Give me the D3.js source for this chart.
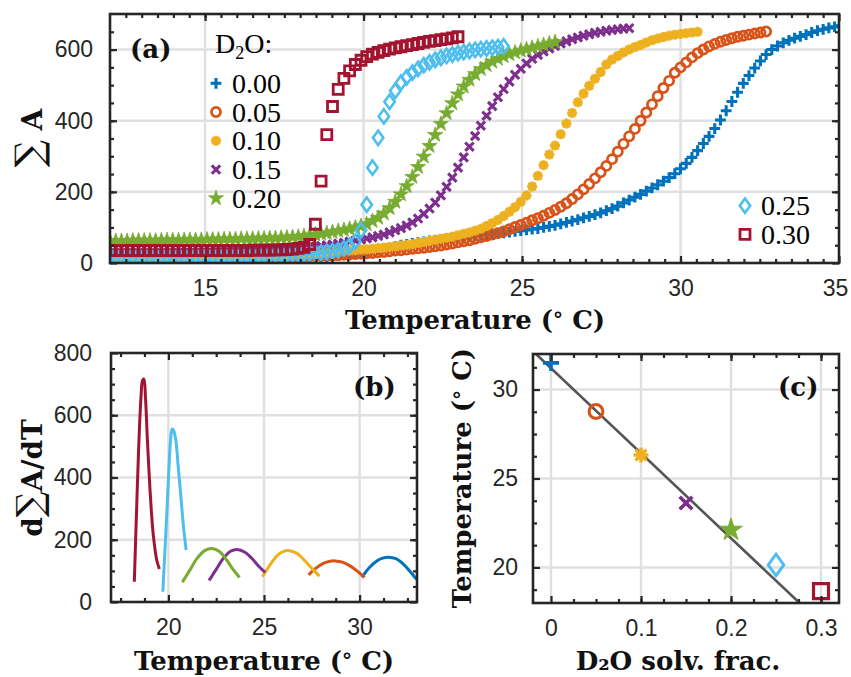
<!DOCTYPE html>
<html>
<head>
<meta charset="utf-8">
<title>D2O transition</title>
<script src="https://cdn.jsdelivr.net/npm/d3@7"></script>
<style>
  body { margin: 0; background: #fff; }
  svg { display: block; }
  .lbl { font-family: "DejaVu Serif", serif; font-weight: bold; font-size: 26px; fill: #111; }
  .leg { font-family: "Liberation Serif", "Times New Roman", serif; font-size: 28px; fill: #000; }
</style>
</head>
<body>
<svg id="fig" width="851" height="677"></svg>
<script>
// temperature grid of panel (a): first reading and step (deg C)
var T0 = 12, dT = 0.18;

var d2oFrac = [0, 0.05, 0.10, 0.15, 0.20, 0.25, 0.30];
var d2oLabels = ["0.00", "0.05", "0.10", "0.15", "0.20", "0.25", "0.30"];
var colors = ["#0072BD", "#D95319", "#EDB120", "#7E2F8E", "#77AC30", "#4DBEEE", "#A2142F"];
var markers = ["plus", "circle", "asterisk", "cross", "star", "diamond", "square"];

// (a) summed area, one value per temperature step
var sumA_000 = [6,6,6,6,6,6,6,6,7,7, 7,7,7,7,7,7,8,8,8,8, 8,8,8,9,9,9,9,10,10,10,
  11,11,12,12,13,14,15,16,18,20, 22,24,26,28,31,33,36,38,41,44, 47,50,52,55,57,59,62,64,66,68,
  70,71,73,74,76,78,80,82,84,85, 87,89,91,93,95,97,100,103,106,110, 114,118,122,127,131,136,141,147,153,160,
  169,177,185,193,202,211,220,230,240,251, 265,280,297,316,336,356,378,402,428,454,
  480,505,527,548,568,586,600,610,619,626, 632,637,642,648,653,657,661,664,667];
var sumA_005 = [13,13,13,13,13,13,13,13,13,13, 14,14,14,14,14,14,14,14,14,14, 15,15,15,15,15,16,16,16,16,17,
  17,17,18,18,19,19,20,20,21,21, 22,23,24,25,26,27,28,30,31,33, 35,36,38,40,41,43,45,47,49,52,
  55,58,61,64,68,72,76,80,84,89, 95,101,107,113,120,126,133,141,149,158, 168,180,193,207,222,238,255,273,292,313,
  335,356,377,400,423,446,469,492,512,535, 550,564,578,590,600,609,616,622,627,632,
  636,639,642,645,648,651];
var sumA_010 = [18,18,18,18,18,18,18,18,18,18, 18,18,18,19,19,19,19,19,20,20, 20,20,21,21,21,22,22,23,23,24,
  24,25,25,26,27,28,29,30,31,32, 33,34,35,36,38,39,40,42,43,45, 47,49,51,53,56,59,62,65,68,71,
  74,78,82,86,91,96,104,112,121,132, 144,157,172,190,215,245,275,305,330,362, 392,422,452,476,498,518,537,558,572,582,
  592,600,607,613,620,626,631,635,639,642, 644,646,648,650];
var sumA_015 = [27,27,27,27,27,27,27,27,27,27, 27,27,28,28,28,28,29,29,29,30, 30,30,31,31,32,32,33,34,35,36,
  37,38,40,41,43,44,46,48,50,52, 55,57,60,63,66,69,72,76,80,86, 92,98,105,114,125,138,153,170,190,214,
  240,268,297,327,357,386,414,441,466,489, 510,529,546,561,574,585,595,603,610,617,
  623,629,634,639,643,647,650,653,655,657, 659,660];
var sumA_020 = [62,62,62,62,63,63,63,63,63,64, 64,64,64,65,65,65,65,66,66,66, 67,67,67,68,68,68,69,69,70,70,
  71,72,73,74,76,78,80,82,84,87, 90,93,96,100,104,109,118,127,139,154, 172,193,216,242,270,299,329,360,391,421,
  449,474,496,515,531,545,556,566,574,581, 587,592,597,601,605,609,613,617,621];
var sumA_025 = [20,20,20,20,20,20,20,20,20,20, 20,20,20,20,20,21,21,21,21,21, 21,21,22,22,22,22,22,23,23,23,
  24,24,25,25,26,27,28,29,31,33, 36,41,48,60,92,164,268,352,412,453, 484,507,522,535,546,556,564,571,577,582,
  586,590,593,596,599,601,603,605,607,609];
var sumA_030 = [35,35,35,35,35,35,35,35,35,35, 35,35,35,35,35,35,35,35,35,35, 35,35,35,35,35,36,36,36,36,37,
  37,38,39,41,44,52,109,230,361,440, 488,519,540,558,570,580,587,592,597,601,
  605,608,611,614,617,620,623,625,628,630, 633,636];
var sumA = [sumA_000, sumA_005, sumA_010, sumA_015, sumA_020, sumA_025, sumA_030];

// (b) derivative of the summed area
var dTemp_000 = [30.12, 30.5, 30.9, 31.2, 31.52, 31.9, 32.3, 32.65, 32.97];
var dA_000 = [79, 110, 132, 141, 144, 139, 121, 97, 73];
var dTemp_005 = [27.33, 27.7, 28.1, 28.45, 28.73, 29.1, 29.5, 29.9, 30.26];
var dA_005 = [87, 108, 124, 131, 132, 128, 116, 98, 79];
var dTemp_010 = [24.92, 25.3, 25.7, 26.0, 26.32, 26.7, 27.1, 27.5, 27.9];
var dA_010 = [81, 118, 150, 162, 165, 157, 135, 108, 83];
var dTemp_015 = [22.13, 22.5, 22.9, 23.25, 23.6, 24.0, 24.4, 24.75, 25.06];
var dA_015 = [69, 105, 142, 163, 169, 160, 138, 113, 95];
var dTemp_020 = [20.73, 21.1, 21.5, 21.9, 22.27, 22.65, 23.05, 23.4, 23.72];
var dA_020 = [64, 100, 140, 165, 172, 163, 135, 103, 79];
var dTemp_025 = [19.71, 19.82, 19.93, 20.03, 20.12, 20.2, 20.27, 20.4, 20.5, 20.61, 20.7, 20.79, 20.93];
var dA_025 = [33, 165, 300, 430, 525, 556, 552, 515, 445, 370, 305, 242, 167];
var dTemp_030 = [18.22, 18.33, 18.45, 18.57, 18.65, 18.72, 18.8, 18.9, 19.04, 19.13, 19.22, 19.39, 19.53];
var dA_030 = [65, 280, 500, 660, 712, 716, 660, 525, 360, 275, 210, 135, 106];
var dTemp = [dTemp_000, dTemp_005, dTemp_010, dTemp_015, dTemp_020, dTemp_025, dTemp_030];
var dA = [dA_000, dA_005, dA_010, dA_015, dA_020, dA_025, dA_030];

// (c) transition temperature per D2O fraction, and the fitted line end points
var transT = [31.5, 28.77, 26.32, 23.62, 22.11, 20.14, 18.67];
var fitFrac = [-0.0167, 0.2762];
var fitT = [32, 18];

var ink = "#262626", gridCol = "#e0e0e0";
var svg = d3.select("#fig");
var defs = svg.append("defs");

// marker shapes, s = scale
var mkSize = {plus: 5.4, circle: 4.6, asterisk: 5, cross: 4.2, star: 8, diamond: 5.2, square: 5};
var mkStroke = {plus: 3.1, circle: 2.7, asterisk: 3, cross: 3.1, star: 0.8, diamond: 2.6, square: 2.8};

function markerD(type, s) {
    var r = mkSize[type] * s;
    if (type == "plus") return "M" + -r + ",0H" + r + "M0," + -r + "V" + r;
    if (type == "cross") return "M" + -r + "," + -r + "L" + r + "," + r + "M" + -r + "," + r + "L" + r + "," + -r;
    if (type == "asterisk") {
        var q = r * 0.72;
        return "M" + -r + ",0H" + r + "M0," + -r + "V" + r +
            "M" + -q + "," + -q + "L" + q + "," + q + "M" + -q + "," + q + "L" + q + "," + -q;
    }
    if (type == "circle") return "M" + r + ",0A" + r + "," + r + " 0 1,1 " + -r + ",0A" + r + "," + r + " 0 1,1 " + r + ",0Z";
    if (type == "square") return "M" + -r + "," + -r + "H" + r + "V" + r + "H" + -r + "Z";
    if (type == "diamond") {
        var h = r * 1.38;
        return "M0," + -h + "L" + r + ",0L0," + h + "L" + -r + ",0Z";
    }
    // star: d3 outer radius = sqrt(size * 0.8908)
    return d3.symbol().type(d3.symbolStar).size(r * r / 0.8908)();
}

function styleMarker(sel, i, s) {
    var type = markers[i];
    sel.attr("d", markerD(type, s))
        .attr("fill", type == "star" ? colors[i] : "none")
        .attr("stroke", colors[i])
        .attr("stroke-width", mkStroke[type] * (s > 1 ? 1.15 : 1))
        .attr("stroke-linejoin", "miter");
}

function clip(id, p) {
    defs.append("clipPath").attr("id", id)
        .append("rect").attr("width", p.w).attr("height", p.h);
}

function drawGrid(g, x, y, xt, yt) {
    var gg = g.append("g").attr("class", "grid");
    gg.selectAll("line.gx").data(xt).enter().append("line")
        .attr("x1", d => x(d)).attr("x2", d => x(d))
        .attr("y1", y.range()[0]).attr("y2", y.range()[1])
        .attr("stroke", gridCol).attr("stroke-width", 2.5);
    gg.selectAll("line.gy").data(yt).enter().append("line")
        .attr("y1", d => y(d)).attr("y2", d => y(d))
        .attr("x1", x.range()[0]).attr("x2", x.range()[1])
        .attr("stroke", gridCol).attr("stroke-width", 2.5);
}

function styleAxis(ax) {
    ax.select(".domain").remove();
    ax.attr("font-family", "'Liberation Sans', Arial, sans-serif")
        .attr("font-size", 23)
        .attr("color", ink);
    ax.selectAll("line").attr("stroke-width", 2.2);
}

// ticks point inward on all four sides, labels only bottom and left
function drawAxes(g, x, y, o) {
    var w = x.range()[1], h = y.range()[0];
    [[o.xt, 7], [o.xm, 4]].forEach(function(t, j) {
        g.append("g").attr("transform", "translate(0," + h + ")")
            .call(d3.axisBottom(x).tickValues(t[0]).tickSize(-t[1]).tickPadding(17)
                .tickFormat(j == 0 ? o.xf : ""))
            .call(styleAxis);
        g.append("g")
            .call(d3.axisTop(x).tickValues(t[0]).tickSize(-t[1]).tickFormat(""))
            .call(styleAxis);
    });
    [[o.yt, 7], [o.ym, 4]].forEach(function(t, j) {
        g.append("g")
            .call(d3.axisLeft(y).tickValues(t[0]).tickSize(-t[1]).tickPadding(o.yPad || 17)
                .tickFormat(j == 0 ? o.yf : ""))
            .call(styleAxis);
        g.append("g").attr("transform", "translate(" + w + ",0)")
            .call(d3.axisRight(y).tickValues(t[0]).tickSize(-t[1]).tickFormat(""))
            .call(styleAxis);
    });
    g.append("rect").attr("width", w).attr("height", h)
        .attr("fill", "none").attr("stroke", ink).attr("stroke-width", 2.6);
}

function label(x, y, parts, rotate) {
    var t = svg.append("text").attr("class", "lbl").attr("text-anchor", "middle")
        .attr("transform", "translate(" + x + "," + y + ")" + (rotate ? " rotate(-90)" : ""));
    parts.forEach(function(p) {
        var s = t.append("tspan").text(p.t);
        if (p.size) s.attr("font-size", p.size);
        if (p.dy) s.attr("dy", p.dy);
        if (p.normal) s.attr("font-weight", "normal");
    });
    return t;
}

var degC = [{t: "Temperature ("}, {t: "°", size: 20, dy: -2}, {t: " C)", dy: 2}];

// ---------- (a) ----------
var pa = {left: 110, top: 14, w: 729, h: 249};
var xa = d3.scaleLinear().domain([12, 35]).range([0, pa.w]);
var ya = d3.scaleLinear().domain([0, 700]).range([pa.h, 0]);
var ga = svg.append("g").attr("transform", "translate(" + pa.left + "," + pa.top + ")");
drawGrid(ga, xa, ya, [15, 20, 25, 30], [200, 400, 600]);
clip("clipA", pa);
var plotA = ga.append("g").attr("clip-path", "url(#clipA)");
sumA.forEach(function(vals, i) {
    plotA.append("g").selectAll("path").data(vals).enter().append("path")
        .attr("transform", (d, k) => "translate(" + xa(T0 + k * dT) + "," + ya(d) + ")")
        .call(styleMarker, i, 1);
});
drawAxes(ga, xa, ya, {
    xt: [15, 20, 25, 30, 35], xm: d3.range(12.5, 35, 0.5), xf: d3.format("d"),
    yt: [0, 200, 400, 600], ym: d3.range(50, 700, 50), yf: d3.format("d")
});
// keep the last x label inside the page
ga.selectAll("text").filter(function() { return this.textContent == "35"; }).attr("dx", -4);

// legend of (a), split in two blocks
svg.append("text").attr("class", "leg").attr("x", 215).attr("y", 53)
    .call(function(t) {
        t.append("tspan").text("D");
        t.append("tspan").text("2").attr("font-size", 18).attr("dy", 6);
        t.append("tspan").text("O:").attr("dy", -6);
    });
var legRows = [0, 1, 2, 3, 4].map(i => ({i: i, x: 216, y: 83.3 + i * 28.75}))
    .concat([5, 6].map((i, j) => ({i: i, x: 745, y: 205.7 + j * 28.6})));
var leg = svg.append("g").selectAll("g").data(legRows).enter().append("g")
    .attr("transform", d => "translate(" + d.x + "," + d.y + ")");
leg.each(function(d) {
    d3.select(this).append("path").call(styleMarker, d.i, 1);
    d3.select(this).append("text").attr("class", "leg").attr("x", 16).attr("y", 9.5)
        .text(d2oLabels[d.i]);
});

svg.append("text").attr("class", "lbl").attr("x", 130).attr("y", 58).attr("font-size", 27).text("(a)");
label(475, 329, degC);
label(42, 138, [{t: "∑", size: 38, normal: true}, {t: " A", size: 28}], true);

// ---------- (b) ----------
var pb = {left: 111, top: 353, w: 306, h: 249};
var xb = d3.scaleLinear().domain([17, 33]).range([0, pb.w]);
var yb = d3.scaleLinear().domain([0, 800]).range([pb.h, 0]);
var gb = svg.append("g").attr("transform", "translate(" + pb.left + "," + pb.top + ")");
drawGrid(gb, xb, yb, [20, 25, 30], [200, 400, 600]);
clip("clipB", pb);
var line = d3.line().curve(d3.curveCatmullRom.alpha(0.5))
    .x(d => xb(d[0])).y(d => yb(d[1]));
var plotB = gb.append("g").attr("clip-path", "url(#clipB)");
dTemp.forEach(function(ts, i) {
    plotB.append("path")
        .datum(ts.map((t, k) => [t, dA[i][k]]))
        .attr("d", line)
        .attr("fill", "none")
        .attr("stroke", colors[i])
        .attr("stroke-width", 3);
});
drawAxes(gb, xb, yb, {
    xt: [20, 25, 30], xm: [17.5, 18.75, 21.25, 22.5, 23.75, 26.25, 27.5, 28.75, 31.25, 32.5], xf: d3.format("d"),
    yt: [0, 200, 400, 600, 800], ym: d3.range(50, 800, 50), yf: d3.format("d"), yPad: 19
});
svg.append("text").attr("class", "lbl").attr("x", 353).attr("y", 396).attr("font-size", 27).text("(b)");
label(264, 670, degC);
label(42, 478, [{t: "d", size: 28}, {t: "∑", size: 36, normal: true}, {t: "A/dT", size: 28}], true);

// ---------- (c) ----------
var pc = {left: 533, top: 354, w: 306, h: 249};
var xc = d3.scaleLinear().domain([-0.02, 0.32]).range([0, pc.w]);
var yc = d3.scaleLinear().domain([18, 32]).range([pc.h, 0]);
var gc = svg.append("g").attr("transform", "translate(" + pc.left + "," + pc.top + ")");
drawGrid(gc, xc, yc, [0, 0.1, 0.2, 0.3], [20, 25, 30]);
clip("clipC", pc);
gc.append("g").attr("clip-path", "url(#clipC)").append("path")
    .datum(fitFrac.map((f, k) => [f, fitT[k]]))
    .attr("d", d3.line().x(d => xc(d[0])).y(d => yc(d[1])))
    .attr("stroke", "#555").attr("stroke-width", 2.6).attr("fill", "none");
gc.append("g").selectAll("path").data(transT).enter().append("path")
    .attr("transform", (d, i) => "translate(" + xc(d2oFrac[i]) + "," + yc(d) + ")")
    .each(function(d, i) { d3.select(this).call(styleMarker, i, 1.5); });
drawAxes(gc, xc, yc, {
    xt: [0, 0.1, 0.2, 0.3], xm: d3.range(0.025, 0.32, 0.025), xf: d => d === 0 ? "0" : d3.format(".1f")(d),
    yt: [20, 25, 30], ym: [18.75, 21.25, 22.5, 23.75, 26.25, 27.5, 28.75, 31.25], yf: d3.format("d"), yPad: 15
});
svg.append("text").attr("class", "lbl").attr("x", 778).attr("y", 396).attr("font-size", 27).text("(c)");
label(678, 670, [{t: "D₂O solv. frac."}]);
label(471, 478, degC, true);
</script>
</body>
</html>
